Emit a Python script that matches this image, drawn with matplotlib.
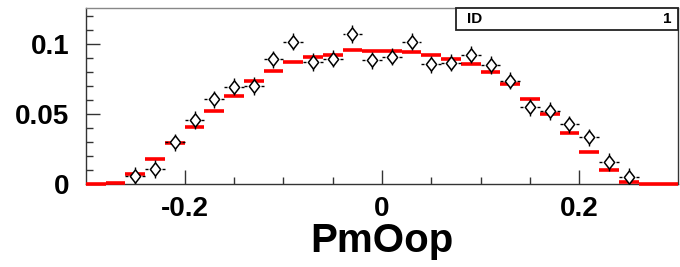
import numpy as np
import matplotlib
matplotlib.use("Agg")
import matplotlib.pyplot as plt
from matplotlib.patches import Rectangle

plt.rcParams['font.family'] = ['Liberation Sans', 'DejaVu Sans']
plt.rcParams['font.weight'] = 'bold'

# binning: 30 bins of width 0.02 from -0.3 to 0.3
bin_edges = np.linspace(-0.3, 0.3, 31)
bin_centers = 0.5 * (bin_edges[:-1] + bin_edges[1:])

# simulation (red histogram)
sim_values = [0.0, 0.001, 0.0074, 0.0179, 0.0293, 0.0407, 0.0521, 0.0626, 0.0736, 0.0805,
              0.0869, 0.0907, 0.0924, 0.0955, 0.0950, 0.0952, 0.0945, 0.0924, 0.0893, 0.0855,
              0.0802, 0.0712, 0.0607, 0.0500, 0.0364, 0.0226, 0.0102, 0.0017, 0.0, 0.0]

# data points (open diamonds)
data_values = [np.nan, np.nan, 0.0060, 0.0107, 0.0298, 0.0457, 0.0605, 0.0695, 0.0700, 0.0890,
               0.1017, 0.0871, 0.0895, 0.1070, 0.0883, 0.0910, 0.1017, 0.0855, 0.0867, 0.0924,
               0.0850, 0.0738, 0.0548, 0.0521, 0.0426, 0.0333, 0.0157, 0.0050, np.nan, np.nan]
data_errors = [0.0062] * 30

x_ticks = [-0.2, 0.0, 0.2]
x_ticklabels = ['-0.2', '0', '0.2']
y_ticks = [0.0, 0.05, 0.1]
y_ticklabels = ['0', '0.05', '0.1']

W, H = 680, 267
fig = plt.figure(figsize=(W / 100, H / 100), dpi=100)
ax = fig.add_axes([86 / W, 1 - 184 / H, (678 - 86) / W, (184 - 7.5) / H])

x = np.array(bin_centers)
y = np.array(data_values)
yerr = np.array(data_errors)
half = 0.01
gap = 0.007

# red histogram bars (horizontal segments only)
ax.hlines(sim_values, bin_edges[:-1], bin_edges[1:], colors='#ff0000', linewidth=2.6,
          zorder=4, clip_on=False)

# vertical error bars (hidden inside the white-filled marker)
ok = ~np.isnan(y)
ax.vlines(x[ok], y[ok] - yerr[ok], y[ok] + yerr[ok], colors='black', linewidth=1.0, zorder=5)
# horizontal error bars with a gap around the marker
ax.hlines(y[ok], x[ok] - half, x[ok] - gap, colors='black', linewidth=1.0, zorder=5)
ax.hlines(y[ok], x[ok] + gap, x[ok] + half, colors='black', linewidth=1.0, zorder=5)

diamond = [(0, 1), (0.78, 0), (0, -1), (-0.78, 0), (0, 1)]
ax.plot(x[ok], y[ok], linestyle='none', marker=diamond, markersize=9.5,
        markerfacecolor='white', markeredgecolor='black', markeredgewidth=1.1, zorder=6)

ax.set_xlim(-0.3, 0.3)
ax.set_ylim(0, 0.126)

ax.set_xticks(x_ticks)
ax.set_xticklabels(x_ticklabels)
ax.set_xticks([-0.25, -0.15, -0.1, -0.05, 0.05, 0.1, 0.15, 0.25], minor=True)
ax.set_yticks(y_ticks)
ax.set_yticklabels(y_ticklabels)
ax.set_yticks([0.01, 0.02, 0.03, 0.04, 0.06, 0.07, 0.08, 0.09, 0.11, 0.12], minor=True)

ax.tick_params(axis='both', which='both', direction='in', top=False, right=False,
               colors='#333333', labelcolor='black', width=1.0)
ax.tick_params(axis='both', which='major', length=10, labelsize=20)
ax.tick_params(axis='both', which='minor', length=5)
ax.tick_params(axis='x', which='major', pad=9)
ax.tick_params(axis='y', which='major', pad=12)
for lbl in ax.get_xticklabels() + ax.get_yticklabels():
    lbl.set_fontweight('bold')

for side in ['left', 'bottom', 'right']:
    ax.spines[side].set_color('#333333')
    ax.spines[side].set_linewidth(1.0)
ax.spines['top'].set_color('#888888')
ax.spines['top'].set_linewidth(1.0)

fig.text(382 / W, 1 - 252 / H, 'PmOop', fontsize=29, fontweight='bold',
         ha='center', va='baseline')

# stats box
fig.patches.append(Rectangle((456 / W, 1 - 30 / H), (678 - 456) / W, 22 / H,
                             transform=fig.transFigure, facecolor='white',
                             edgecolor='#222222', linewidth=1.3, zorder=10))
fig.text(467 / W, 1 - 19 / H, 'ID', fontsize=11, fontweight='bold', ha='left',
         va='center', zorder=11)
fig.text(672 / W, 1 - 19 / H, '1', fontsize=11, fontweight='bold', ha='right',
         va='center', zorder=11)

fig.savefig('out.png', dpi=100)
